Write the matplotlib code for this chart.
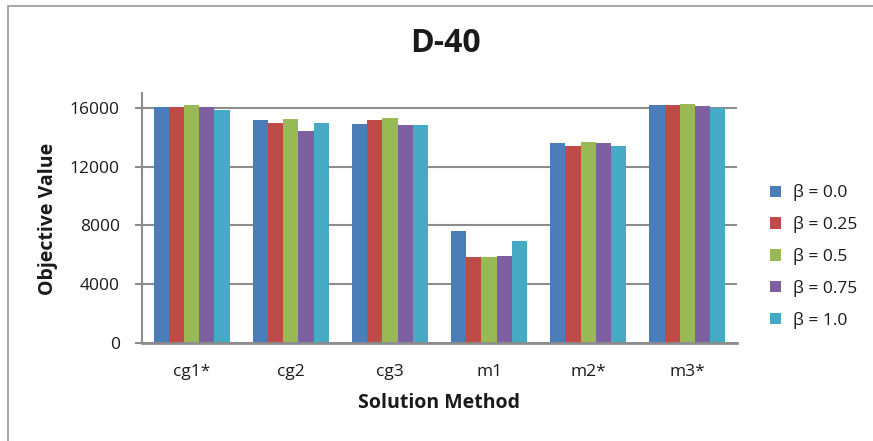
"""Grouped bar chart of objective value per solution method for D-40."""

import matplotlib

matplotlib.use("Agg")
import matplotlib.pyplot as plt
import numpy as np
from matplotlib.patches import Patch, Rectangle

plt.rcParams["font.family"] = ["Open Sans", "DejaVu Sans"]

METHODS = ["cg1*", "cg2", "cg3", "m1", "m2*", "m3*"]
BETA_LABELS = ["β = 0.0", "β = 0.25", "β = 0.5", "β = 0.75", "β = 1.0"]
BETA_00 = [16050, 15200, 14930, 7600, 13620, 16200]
BETA_025 = [16100, 14980, 15180, 5880, 13410, 16230]
BETA_05 = [16200, 15250, 15340, 5830, 13700, 16270]
BETA_075 = [16100, 14450, 14860, 5920, 13590, 16130]
BETA_10 = [15880, 14980, 14860, 6950, 13390, 16000]
SERIES = [BETA_00, BETA_025, BETA_05, BETA_075, BETA_10]
COLORS = ["#4A7EBB", "#BE4B48", "#98B954", "#7D60A0", "#46AAC5"]
Y_TICKS = [0, 4000, 8000, 12000, 16000]

GRID = "#8C8C8C"
TEXT = "#1A1A1A"

fig = plt.figure(figsize=(8.73, 4.41), dpi=100)
ax = fig.add_axes([142 / 873, 98 / 441, 595 / 873, 249.7 / 441])

# chart frame (only top and left edges fall inside the canvas)
fig.patches.append(
    Rectangle((8 / 873, -0.2), 1.2, 1.2 - 5.5 / 441, transform=fig.transFigure,
              fill=False, edgecolor="#A6A6A6", linewidth=1.4, zorder=0)
)

x = np.arange(len(METHODS))
bar_w = 0.1535
for i, (values, color, label) in enumerate(zip(SERIES, COLORS, BETA_LABELS)):
    ax.bar(x + (i - 2) * bar_w, values, width=bar_w, color=color,
           edgecolor="none", label=label, zorder=3)

ax.set_xlim(-0.5, len(METHODS) - 0.5)
ax.set_ylim(0, 17000)
ax.set_yticks(Y_TICKS)
ax.set_yticklabels([str(v) for v in Y_TICKS])
ax.set_xticks(x)
ax.set_xticklabels(METHODS)

ax.grid(axis="y", color=GRID, linewidth=1.5, zorder=1)
ax.set_axisbelow(True)
for side in ("top", "right"):
    ax.spines[side].set_visible(False)
ax.spines["left"].set_color(GRID)
ax.spines["left"].set_linewidth(1.5)
ax.spines["bottom"].set_color(GRID)
ax.spines["bottom"].set_linewidth(2.0)
ax.spines["bottom"].set_zorder(4)

ax.tick_params(axis="y", length=5, width=1.5, color=GRID, pad=11,
               labelsize=12.5, labelcolor=TEXT)
ax.tick_params(axis="x", length=0, pad=15, labelsize=12.5, labelcolor=TEXT)

ax.set_ylabel("Objective Value", fontsize=14, fontweight="bold", color=TEXT)
ax.yaxis.set_label_coords((48 - 142) / 595, 0.497)
ax.yaxis.label.set_va("center")
ax.set_xlabel("Solution Method", fontsize=14, fontweight="bold", color=TEXT)
ax.xaxis.set_label_coords(0.499, (343 - 403) / 249.7)
ax.xaxis.label.set_va("center")

fig.text(445 / 873, 1 - 44 / 441, "D-40", ha="center", va="center",
         fontsize=23, fontweight="bold", color=TEXT)

handles = [Patch(facecolor=c, edgecolor="none") for c in COLORS]
fig.legend(handles, BETA_LABELS, loc="center left",
           bbox_to_anchor=(770 / 873, 1 - 256.5 / 441), frameon=False,
           fontsize=12.5, handlelength=0.65, handleheight=0.65,
           handletextpad=0.65, labelspacing=0.85, borderpad=0,
           borderaxespad=0, labelcolor=TEXT)

fig.savefig("out.png", dpi=100, facecolor="white")
